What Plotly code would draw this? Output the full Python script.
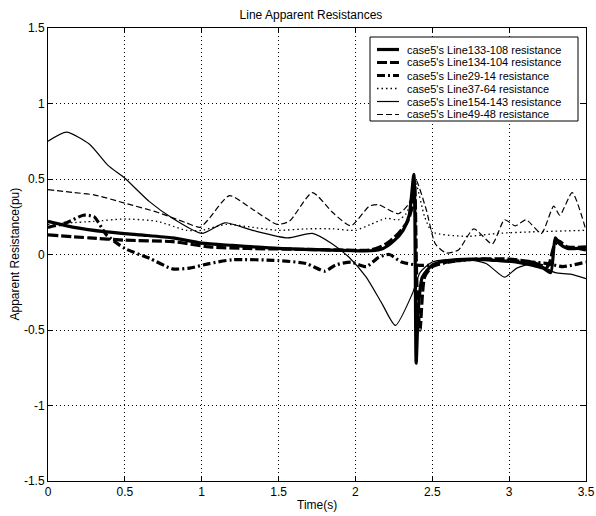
import plotly.graph_objects as go

# ---- data ----
t_133_108 = [0, 0.17, 0.38, 0.6, 0.81, 1.0, 1.2, 1.5, 1.8, 2.1, 2.18, 2.25, 2.31, 2.35, 2.38, 2.395, 2.41, 2.435, 2.5, 2.6, 2.75, 2.93, 3.05, 3.15, 3.22, 3.27, 3.3, 3.33, 3.38, 3.45, 3.5]
v_133_108 = [0.22, 0.18, 0.15, 0.13, 0.11, 0.075, 0.06, 0.04, 0.03, 0.025, 0.04, 0.09, 0.16, 0.26, 0.53, -0.72, -0.35, -0.15, -0.07, -0.04, -0.03, -0.04, -0.05, -0.07, -0.09, -0.12, 0.11, 0.07, 0.04, 0.04, 0.03]

t_134_104 = [0, 0.27, 0.5, 0.81, 1.05, 1.3, 1.6, 1.9, 2.1, 2.2, 2.28, 2.34, 2.37, 2.385, 2.40, 2.42, 2.45, 2.5, 2.6, 2.8, 3.0, 3.15, 3.25, 3.29, 3.32, 3.38, 3.5]
v_134_104 = [0.13, 0.11, 0.095, 0.085, 0.05, 0.04, 0.035, 0.03, 0.03, 0.07, 0.14, 0.22, 0.32, 0.48, -0.2, -0.5, -0.15, -0.08, -0.05, -0.03, -0.03, -0.05, -0.08, 0.05, 0.09, 0.05, 0.05]

t_29_14 = [0, 0.12, 0.23, 0.3, 0.38, 0.5, 0.66, 0.81, 0.92, 1.05, 1.2, 1.5, 1.68, 1.8, 1.87, 1.97, 2.07, 2.15, 2.22, 2.3, 2.4, 2.5, 2.6, 2.8, 3.0, 3.15, 3.25, 3.35, 3.5]
v_29_14 = [0.18, 0.21, 0.26, 0.25, 0.13, 0.04, -0.025, -0.095, -0.09, -0.06, -0.035, -0.04, -0.06, -0.11, -0.07, -0.05, -0.08, -0.02, 0.0, -0.05, -0.07, -0.07, -0.05, -0.03, -0.04, -0.05, -0.06, -0.08, -0.05]

t_37_64 = [0, 0.3, 0.5, 0.71, 0.9, 1.0, 1.16, 1.33, 1.5, 1.68, 1.85, 2.0, 2.1, 2.2, 2.28, 2.33, 2.36, 2.39, 2.45, 2.5, 2.72, 2.93, 3.15, 3.5]
v_37_64 = [0.2, 0.22, 0.235, 0.22, 0.16, 0.16, 0.20, 0.18, 0.16, 0.17, 0.17, 0.16, 0.2, 0.24, 0.23, 0.27, 0.35, 0.48, 0.25, 0.15, 0.12, 0.14, 0.15, 0.16]

t_154_143 = [0, 0.12, 0.27, 0.39, 0.5, 0.66, 0.81, 1.0, 1.15, 1.33, 1.56, 1.72, 1.85, 1.96, 2.07, 2.17, 2.26, 2.37, 2.42, 2.5, 2.7, 2.85, 2.97, 3.05, 3.15, 3.22, 3.3, 3.4, 3.5]
v_154_143 = [0.75, 0.81, 0.73, 0.59, 0.505, 0.35, 0.24, 0.14, 0.21, 0.16, 0.11, 0.14, 0.07, -0.02, -0.15, -0.32, -0.47, -0.26, -0.12, -0.05, -0.03, -0.06, -0.15, -0.09, -0.06, -0.08, -0.12, -0.13, -0.16]

t_49_48 = [0, 0.17, 0.3, 0.5, 0.71, 0.9, 0.99, 1.05, 1.18, 1.33, 1.49, 1.57, 1.72, 1.85, 1.97, 2.09, 2.15, 2.28, 2.35, 2.39, 2.46, 2.52, 2.59, 2.67, 2.77, 2.89, 2.97, 3.04, 3.11, 3.21, 3.29, 3.33, 3.41, 3.5]
v_49_48 = [0.43, 0.41, 0.395, 0.34, 0.28, 0.21, 0.18, 0.24, 0.39, 0.30, 0.20, 0.22, 0.41, 0.28, 0.19, 0.32, 0.33, 0.27, 0.34, 0.50, 0.30, 0.07, 0.01, 0.03, 0.17, 0.07, 0.23, 0.19, 0.23, 0.14, 0.32, 0.26, 0.41, 0.16]

x_ticks = [0, 0.5, 1, 1.5, 2, 2.5, 3, 3.5]
x_ticktext = ["0", "0.5", "1", "1.5", "2", "2.5", "3", "3.5"]
y_ticks = [-1.5, -1, -0.5, 0, 0.5, 1, 1.5]
y_ticktext = ["-1.5", "-1", "-0.5", "0", "0.5", "1", "1.5"]

names = ["case5's Line133-108 resistance", "case5's Line134-104 resistance",
         "case5's Line29-14 resistance", "case5's Line37-64 resistance",
         "case5's Line154-143 resistance", "case5's Line49-48 resistance"]

series = [
    (names[0], t_133_108, v_133_108, 3.2, "solid"),
    (names[1], t_134_104, v_134_104, 3.2, "10px,3px"),
    (names[2], t_29_14, v_29_14, 3.2, "8px,3px,2px,3px"),
    (names[3], t_37_64, v_37_64, 1.3, "1.5px,3px"),
    (names[4], t_154_143, v_154_143, 1.2, "solid"),
    (names[5], t_49_48, v_49_48, 1.2, "6px,3px"),
]

FONT = "Liberation Sans, Arial, sans-serif"
W, H = 596, 516
ML, MR, MT, MB = 48, 10, 28, 35
PW, PH = W - ML - MR, H - MT - MB


def px_x(p):
    return (p - ML) / PW


def px_y(p):
    return (H - MB - p) / PH


fig = go.Figure()
for name, t, v, w, dash in series:
    fig.add_trace(go.Scatter(
        x=t, y=v, name=name, mode="lines", showlegend=False,
        line=dict(color="black", width=w, dash=dash, shape="spline", smoothing=0.6),
    ))

axis_common = dict(
    showline=True, linecolor="black", linewidth=1, mirror="ticks",
    ticks="inside", ticklen=5, tickcolor="black", tickwidth=1,
    showgrid=True, gridcolor="black", gridwidth=1, griddash="1px,3px",
    zeroline=False, automargin=False,
    tickfont=dict(family=FONT, size=12, color="black"),
)

fig.update_xaxes(range=[0, 3.5], tickvals=x_ticks, ticktext=x_ticktext, **axis_common)
fig.update_yaxes(range=[-1.5, 1.5], tickvals=y_ticks, ticktext=y_ticktext, **axis_common)

# legend drawn as a boxed key (box, line samples, labels)
shapes = [dict(type="rect", xref="paper", yref="paper",
               x0=px_x(370), x1=px_x(578), y0=px_y(121), y1=px_y(37),
               line=dict(color="black", width=1), fillcolor="white", layer="above")]
annotations = []
row_y = [49.5, 62.5, 75.5, 88.5, 101.5, 114.5]
for (name, t, v, w, dash), ry in zip(series, row_y):
    shapes.append(dict(type="line", xref="paper", yref="paper",
                       x0=px_x(377), x1=px_x(399), y0=px_y(ry), y1=px_y(ry),
                       line=dict(color="black", width=w, dash=dash), layer="above"))
    annotations.append(dict(text=name, xref="paper", yref="paper", x=px_x(405), y=px_y(ry),
                            xanchor="left", yanchor="middle", showarrow=False,
                            font=dict(family=FONT, size=11, color="black")))

annotations.append(dict(text="Time(s)", xref="paper", yref="paper", x=0.5, y=px_y(505),
                        xanchor="center", yanchor="middle", showarrow=False,
                        font=dict(family=FONT, size=12, color="black")))
annotations.append(dict(text="Apparent Resistance(pu)", xref="paper", yref="paper",
                        x=px_x(14), y=0.5, xanchor="center", yanchor="middle",
                        textangle=-90, showarrow=False,
                        font=dict(family=FONT, size=12, color="black")))

fig.update_layout(
    template="none",
    width=W, height=H,
    margin=dict(l=ML, r=MR, t=MT, b=MB, autoexpand=False),
    paper_bgcolor="white", plot_bgcolor="white",
    font=dict(family=FONT, size=12, color="black"),
    title=dict(text="Line Apparent Resistances", font=dict(family=FONT, size=12, color="black"),
               x=311 / W, xref="container", xanchor="center", y=1 - 15 / H, yref="container",
               yanchor="middle"),
    shapes=shapes,
    annotations=annotations,
    showlegend=False,
)

fig.write_html("out.html", config={"displayModeBar": False},
               post_script="document.body.style.margin='0';document.body.style.padding='0';")
